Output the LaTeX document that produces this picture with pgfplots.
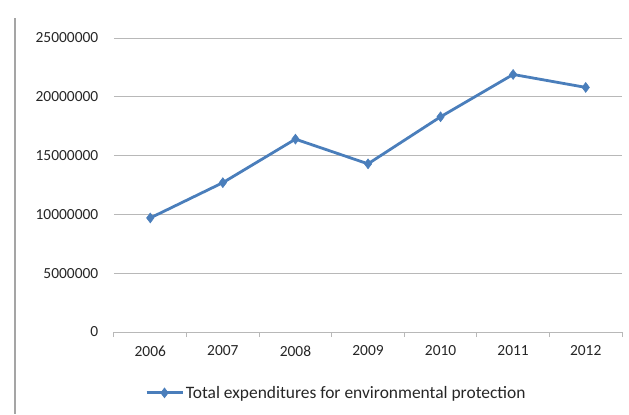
\documentclass[border=0pt]{standalone}
\usepackage{pgfplots}
\pgfplotsset{compat=1.18}
\usepackage{fontspec}
\setmainfont{Carlito}
\definecolor{seriesblue}{HTML}{4A7EBB}
\definecolor{gridgray}{HTML}{B8B8B8}
\definecolor{txt}{HTML}{262626}
\begin{document}
\begin{tikzpicture}[x=1bp,y=1bp]
\path[use as bounding box] (-114,-82) rectangle (515,332);
\draw[gridgray!90!black, line width=1.2bp] (-99,314) -- (-99,-82);
\begin{axis}[
  at={(0,0)}, anchor=south west,
  scale only axis,
  width=508bp, height=294bp,
  xmin=-0.5, xmax=6.5,
  ymin=0, ymax=25000000,
  xtick={0,...,6},
  xticklabels={2006,2007,2008,2009,2010,2011,2012},
  minor xtick={-0.5,0.5,...,6.5},
  ytick={0,5000000,...,25000000},
  scaled y ticks=false,
  /pgf/number format/fixed,
  /pgf/number format/1000 sep={},
  /pgf/number format/assume math mode=true,
  axis x line*=bottom,
  axis y line*=left,
  y axis line style={draw=none},
  x axis line style={gridgray, line width=1bp},
  tick align=outside,
  major x tick style={draw=none},
  minor x tick style={gridgray, line width=1bp},
  minor tick length=5bp,
  major y tick style={draw=none},
  ymajorgrids,
  grid style={gridgray, line width=1bp},
  tick label style={font=\fontsize{15.5}{18}\selectfont, text=txt},
  xticklabel style={yshift=-6bp},
  yticklabel style={xshift=-8bp},
  legend style={
    at={(0.055,-0.207)}, anchor=west, draw=none, fill=none,
    font=\fontsize{17.5}{20}\selectfont, text=txt,
    /tikz/every even column/.append style={column sep=0pt},
  },
  legend cell align=left,
  legend image code/.code={
    \draw[#1, mark repeat=2, mark phase=2] plot coordinates {(0bp,0bp) (18bp,0bp) (36bp,0bp)};
  },
]
\addplot[color=seriesblue, line width=2.8bp, mark=diamond*, mark size=5bp,
  mark options={fill=seriesblue, line width=0.5bp}]
  coordinates {
    (0,9700000)
    (1,12700000)
    (2,16400000)
    (3,14300000)
    (4,18300000)
    (5,21900000)
    (6,20800000)
  };
\addlegendentry{Total expenditures for environmental protection}
\end{axis}
\end{tikzpicture}
\end{document}
